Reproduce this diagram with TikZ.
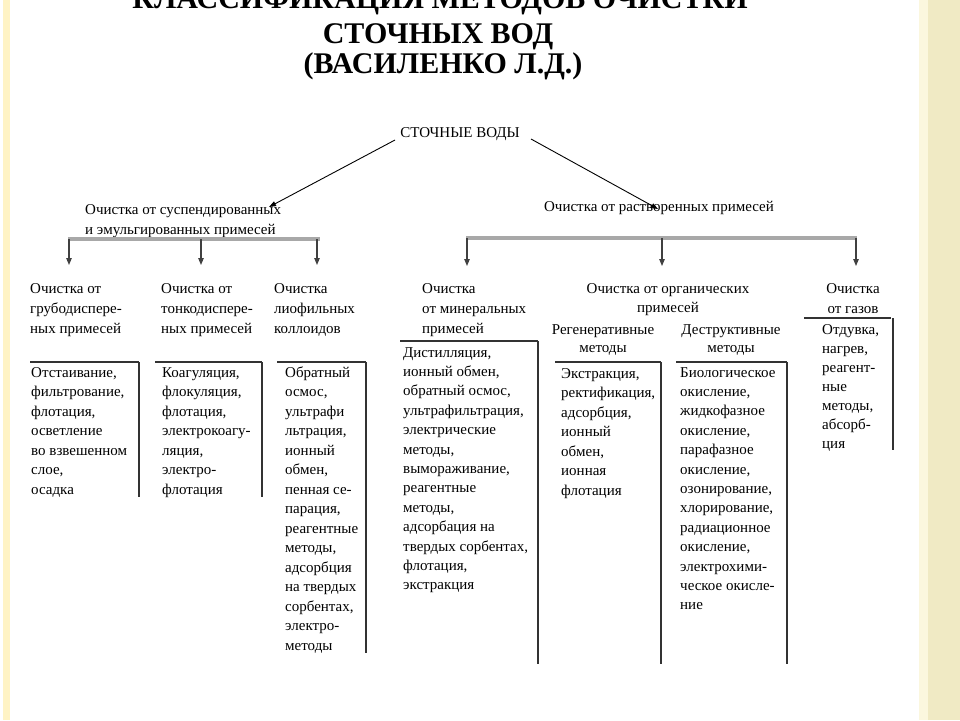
\documentclass[tikz,border=0pt]{standalone}
\usepackage{fontspec}
\setmainfont{Liberation Serif}[BoldFont={Liberation Serif Bold}]
\newfontfamily\ttlfont{Liberation Serif Bold}
\usetikzlibrary{arrows.meta}
\definecolor{beige}{HTML}{F0EAC4}
\definecolor{paleyel}{HTML}{FBF7DE}
\definecolor{leftyel}{HTML}{FFF3C4}
\definecolor{bargray}{HTML}{A8A8A8}
\tikzset{
 txt/.style={inner sep=0pt, font=\fontsize{15}{18}\selectfont},
 ttl/.style={inner sep=0pt, font=\ttlfont\fontsize{30}{34}\selectfont},
 conn/.style={draw=black, line width=0.9pt, -{Triangle[length=7pt,width=5pt]}},
 bar/.style={draw=bargray, line width=3.2pt},
 drop/.style={draw=black!75, line width=1.1pt, -{Triangle[length=7pt,width=5.5pt]}},
 toprule/.style={draw=black!80, line width=1.6pt},
 siderule/.style={draw=black!80, line width=1.3pt},
}
\newcommand\mylines[6]{%
 \foreach \t [count=\i from 0] in {#6} {\node[txt, anchor=#5] (#1-\i) at (#2, {#3+\i*#4}) {\t};}}
\begin{document}
\begin{tikzpicture}[x=1pt,y=-1pt]
\useasboundingbox (0,0) rectangle (960,720);
\fill[white] (0,0) rectangle (960,720);
\fill[leftyel] (3,0) rectangle (10,720);
\fill[paleyel] (919,0) rectangle (928,720);
\fill[beige] (928,0) rectangle (960,720);
% title
\node[ttl, anchor=base] (t1) at (440,9) {КЛАССИФИКАЦИЯ МЕТОДОВ ОЧИСТКИ};
\node[ttl, anchor=base] (t2) at (438,43) {СТОЧНЫХ ВОД};
\node[ttl, anchor=base] (t3) at (443,73) {(ВАСИЛЕНКО Л.Д.)};
% root and groups
\node[txt, anchor=base] (root) at (460,137) {СТОЧНЫЕ ВОДЫ};
\mylines{g1}{85}{214.5}{19.5}{base west}{{Очистка от суспендированных},{и эмульгированных примесей}}
\node[txt, anchor=base] (g2) at (659,211) {Очистка от растворенных примесей};
\coordinate (a1s) at (395,140); \coordinate (a1e) at (269,207);
\coordinate (a2s) at (531,139); \coordinate (a2e) at (658,209);
\draw[conn] (a1s) -- (a1e);
\draw[conn] (a2s) -- (a2e);
% bars
\coordinate (b1l) at (68,239); \coordinate (b1r) at (320,239);
\coordinate (b2l) at (466,238); \coordinate (b2r) at (857,238);
\draw[bar] (b1l) -- (b1r);
\draw[bar] (b2l) -- (b2r);
\foreach \x [count=\k] in {69,201,317} {\coordinate (dl\k t) at (\x,239); \coordinate (dl\k b) at (\x,265); \draw[drop] (dl\k t) -- (dl\k b);}
\foreach \x [count=\k] in {467,662,856} {\coordinate (dr\k t) at (\x,238); \coordinate (dr\k b) at (\x,266); \draw[drop] (dr\k t) -- (dr\k b);}
% headers
\mylines{h1}{30}{293}{20}{base west}{{Очистка от},{грубодиспере-},{ных примесей}}
\mylines{h2}{161}{293}{20}{base west}{{Очистка от},{тонкодиспере-},{ных примесей}}
\mylines{h3}{274}{293}{20}{base west}{{Очистка},{лиофильных},{коллоидов}}
\mylines{h4}{422}{293}{20}{base west}{{Очистка},{от минеральных},{примесей}}
\mylines{h5}{668}{293}{19}{base}{{Очистка от органических},{примесей}}
\mylines{h6}{603}{334}{18}{base}{{Регенеративные},{методы}}
\mylines{h7}{731}{334}{18}{base}{{Деструктивные},{методы}}
\mylines{h8}{853}{293}{20}{base}{{Очистка},{от газов}}
% box rules
\draw[toprule] (30,362) -- (139,362);  \draw[siderule] (139,362) -- (139,497);
\draw[toprule] (155,362) -- (262,362); \draw[siderule] (262,362) -- (262,497);
\draw[toprule] (277,362) -- (366,362); \draw[siderule] (366,362) -- (366,653);
\draw[toprule] (400,341) -- (538,341); \draw[siderule] (538,341) -- (538,664);
\draw[toprule] (555,362) -- (661,362); \draw[siderule] (661,362) -- (661,664);
\draw[toprule] (676,362) -- (787,362); \draw[siderule] (787,362) -- (787,664);
\draw[toprule] (804,318) -- (891,318); \draw[siderule] (893,318) -- (893,450);
% items
\mylines{c1}{31}{377}{19.5}{base west}{{Отстаивание,},{фильтрование,},{флотация,},{осветление},{во взвешенном},{слое,},{осадка}}
\mylines{c2}{162}{377}{19.5}{base west}{{Коагуляция,},{флокуляция,},{флотация,},{электрокоагу-},{ляция,},{электро-},{флотация}}
\mylines{c3}{285}{377}{19.5}{base west}{{Обратный},{осмос,},{ультрафи},{льтрация,},{ионный},{обмен,},{пенная се-},{парация,},{реагентные},{методы,},{адсорбция},{на твердых},{сорбентах,},{электро-},{методы}}
\mylines{c4}{403}{357}{19.4}{base west}{{Дистилляция,},{ионный обмен,},{обратный осмос,},{ультрафильтрация,},{электрические},{методы,},{вымораживание,},{реагентные},{методы,},{адсорбация на},{твердых сорбентах,},{флотация,},{экстракция}}
\mylines{c5}{561}{378}{19.5}{base west}{{Экстракция,},{ректификация,},{адсорбция,},{ионный},{обмен,},{ионная},{флотация}}
\mylines{c6}{680}{377}{19.4}{base west}{{Биологическое},{окисление,},{жидкофазное},{окисление,},{парафазное},{окисление,},{озонирование,},{хлорирование,},{радиационное},{окисление,},{электрохими-},{ческое окисле-},{ние}}
\mylines{c7}{822}{334}{19}{base west}{{Отдувка,},{нагрев,},{реагент-},{ные},{методы,},{абсорб-},{ция}}
\end{tikzpicture}
\end{document}
